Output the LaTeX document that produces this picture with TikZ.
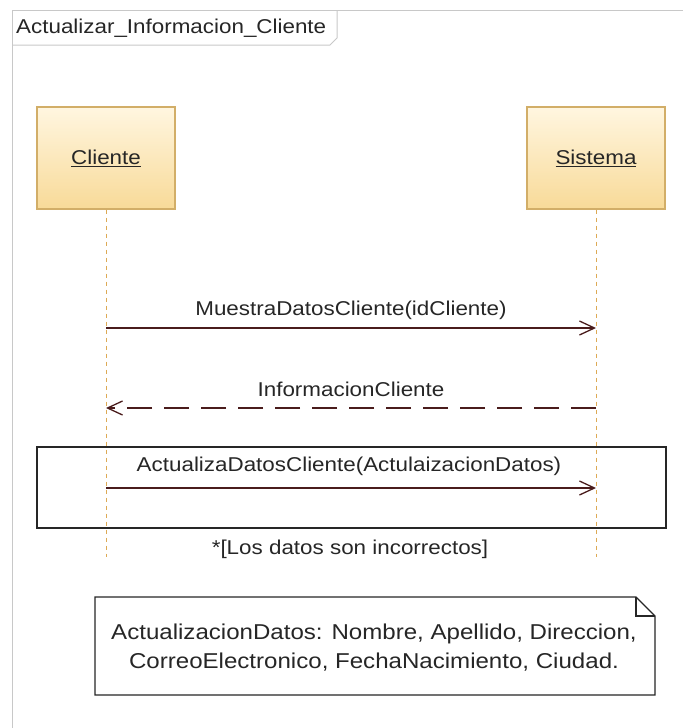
\documentclass[tikz,border=0pt]{standalone}
\usepackage{fontspec}
\setmainfont{Liberation Sans}[FakeStretch=1.12]
\usetikzlibrary{arrows.meta,shapes.misc}
\definecolor{actfill1}{HTML}{FFF6E0}
\definecolor{actfill2}{HTML}{F8DA98}
\definecolor{actdraw}{HTML}{D2AE68}
\definecolor{lifeln}{HTML}{DDAA55}
\definecolor{msgcol}{HTML}{4A1C1C}
\definecolor{framecol}{HTML}{C8C8C8}
\begin{document}
\begin{tikzpicture}[x=1pt,y=-1pt,
  txt/.style={font=\fontsize{20}{24}\selectfont, text=black!85, inner sep=0pt},
  actor/.style={draw=actdraw, line width=1.3pt, top color=actfill1, bottom color=actfill2,
     minimum width=138pt, minimum height=102pt, font=\fontsize{20}{24}\selectfont, text=black!85},
  lifeline/.style={draw=lifeln, line width=0.8pt, dash pattern=on 4pt off 4pt},
  msg/.style={draw=msgcol, line width=1.2pt, -{Straight Barb[length=15pt,width=14pt,line width=1.3pt]}},
  reply/.style={msg, dash pattern=on 25pt off 12pt},
  box/.style={draw=black!85, line width=1.3pt}
]
\useasboundingbox (0,0) rectangle (683,728);
% frame
\draw[framecol, line width=1pt] (12,728) -- (12,10) -- (683,10);
\draw[framecol, line width=1pt] (12,45) -- (330,45) -- (337,38) -- (337,10);
\node[txt, anchor=west] (title) at (16,28) {Actualizar\_Informacion\_Cliente};

% actors
\node[actor] (cli) at (106,158) {\underline{Cliente}};
\node[actor] (sis) at (596,158) {\underline{Sistema}};
\coordinate (cliend) at (106,557);
\coordinate (sisend) at (596,557);
\draw[lifeline] (cli.south) -- (cliend);
\draw[lifeline] (sis.south) -- (sisend);

% messages
\coordinate (c1) at (106,328); \coordinate (s1) at (596,328);
\draw[msg] (c1) -- (s1);
\node[txt] (m1) at (351,310) {MuestraDatosCliente(idCliente)};

\coordinate (c2) at (106,408); \coordinate (s2) at (596,408);
\draw[reply] (s2) -- (c2);
\node[txt] (m2) at (351,389) {InformacionCliente};

% loop
\node[box, minimum width=629pt, minimum height=81pt, inner sep=0pt] (loop) at (351.5,487.5) {};
\coordinate (c3) at (106,488); \coordinate (s3) at (596,488);
\draw[msg] (c3) -- (s3);
\node[txt] (m3) at (349,466) {ActualizaDatosCliente(ActulaizacionDatos)};
\node[txt] (guard) at (350,549) {*[Los datos son incorrectos]};

% note
\draw[box, fill=white] (95,597) -- (636,597) -- (655,616) -- (655,695) -- (95,695) -- cycle;
\draw[box] (636,597) -- (636,616) -- (655,616);
\node[txt, align=center, font=\fontsize{21.5}{29}\selectfont] (note) at (374,648)
  {ActualizacionDatos: Nombre, Apellido, Direccion,\\CorreoElectronico, FechaNacimiento, Ciudad.};
\end{tikzpicture}
\end{document}
